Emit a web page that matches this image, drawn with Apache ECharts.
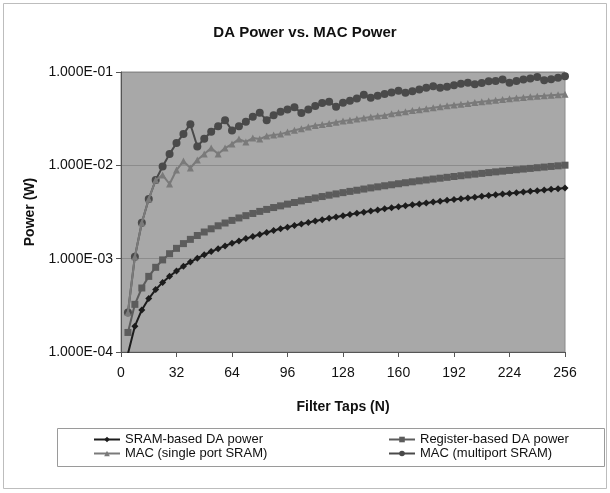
<!DOCTYPE html>
<html>
<head>
<meta charset="utf-8">
<script src="https://cdn.jsdelivr.net/npm/echarts@6/dist/echarts.min.js"></script>
<style>
html,body{margin:0;padding:0;background:#ffffff;}
#chart{width:610px;height:493px;}
</style>
</head>
<body>
<div id="chart"></div>
<script>
const chartTitle = 'DA Power vs. MAC Power';
const xAxisName = 'Filter Taps (N)';
const yAxisName = 'Power (W)';
const seriesNames = ['SRAM-based DA power', 'Register-based DA power', 'MAC (single port SRAM)', 'MAC (multiport SRAM)'];
const xTicks = [0, 32, 64, 96, 128, 160, 192, 224, 256];
const yTicks = [1e-4, 1e-3, 1e-2, 1e-1];

const taps = [4,8,12,16,20,24,28,32,36,40,44,48,52,56,60,64,68,72,76,80,84,88,92,96,100,104,108,112,116,120,124,128,
  132,136,140,144,148,152,156,160,164,168,172,176,180,184,188,192,196,200,204,208,212,216,220,224,228,232,236,240,244,248,252,256];

const sramDA = [9.57e-5,1.89e-4,2.82e-4,3.74e-4,4.66e-4,5.57e-4,6.48e-4,7.39e-4,8.30e-4,9.20e-4,1.011e-3,1.101e-3,1.191e-3,1.281e-3,1.371e-3,1.461e-3,
  1.551e-3,1.641e-3,1.730e-3,1.819e-3,1.910e-3,1.999e-3,2.087e-3,2.176e-3,2.266e-3,2.354e-3,2.445e-3,2.533e-3,2.620e-3,2.711e-3,2.798e-3,2.888e-3,
  2.975e-3,3.065e-3,3.152e-3,3.242e-3,3.329e-3,3.419e-3,3.509e-3,3.594e-3,3.684e-3,3.771e-3,3.860e-3,3.950e-3,4.035e-3,4.125e-3,4.215e-3,4.299e-3,
  4.389e-3,4.479e-3,4.563e-3,4.652e-3,4.742e-3,4.826e-3,4.916e-3,5.005e-3,5.089e-3,5.178e-3,5.268e-3,5.357e-3,5.440e-3,5.529e-3,5.619e-3,5.707e-3];

const registerDA = [1.62e-4,3.24e-4,4.85e-4,6.46e-4,8.08e-4,9.70e-4,1.13e-3,1.29e-3,1.45e-3,1.61e-3,1.77e-3,1.93e-3,2.09e-3,2.25e-3,2.41e-3,2.57e-3,
  2.73e-3,2.89e-3,3.05e-3,3.21e-3,3.37e-3,3.53e-3,3.68e-3,3.84e-3,4.00e-3,4.16e-3,4.31e-3,4.47e-3,4.63e-3,4.79e-3,4.94e-3,5.10e-3,
  5.26e-3,5.41e-3,5.57e-3,5.73e-3,5.88e-3,6.04e-3,6.19e-3,6.35e-3,6.51e-3,6.66e-3,6.82e-3,6.97e-3,7.13e-3,7.28e-3,7.44e-3,7.59e-3,
  7.74e-3,7.90e-3,8.05e-3,8.20e-3,8.36e-3,8.51e-3,8.66e-3,8.82e-3,8.97e-3,9.12e-3,9.27e-3,9.43e-3,9.58e-3,9.73e-3,9.88e-3,1.004e-2];

const macSingle = [2.65e-4,1.05e-3,2.43e-3,4.36e-3,6.96e-3,7.87e-3,6.31e-3,8.91e-3,1.11e-2,9.36e-3,1.14e-2,1.32e-2,1.53e-2,1.32e-2,1.53e-2,1.69e-2,
  1.91e-2,1.78e-2,1.96e-2,1.91e-2,2.06e-2,2.11e-2,2.16e-2,2.27e-2,2.38e-2,2.47e-2,2.57e-2,2.67e-2,2.73e-2,2.80e-2,2.90e-2,2.98e-2,
  3.05e-2,3.13e-2,3.21e-2,3.29e-2,3.37e-2,3.41e-2,3.58e-2,3.67e-2,3.76e-2,3.86e-2,3.95e-2,4.05e-2,4.15e-2,4.25e-2,4.36e-2,4.44e-2,
  4.52e-2,4.61e-2,4.71e-2,4.80e-2,4.90e-2,4.99e-2,5.08e-2,5.17e-2,5.26e-2,5.34e-2,5.42e-2,5.50e-2,5.56e-2,5.63e-2,5.70e-2,5.77e-2];

const macMulti = [2.65e-4,1.05e-3,2.43e-3,4.36e-3,6.96e-3,9.71e-3,1.32e-2,1.73e-2,2.16e-2,2.76e-2,
  1.59e-2,1.93e-2,2.29e-2,2.63e-2,3.05e-2,
  2.36e-2,2.63e-2,2.93e-2,3.32e-2,3.65e-2,
  3.05e-2,3.45e-2,3.74e-2,3.97e-2,4.20e-2,
  3.63e-2,3.97e-2,4.31e-2,4.64e-2,4.79e-2,
  4.25e-2,4.67e-2,4.93e-2,5.21e-2,5.72e-2,
  5.31e-2,5.55e-2,5.82e-2,6.03e-2,6.31e-2,
  6.01e-2,6.23e-2,6.50e-2,6.76e-2,7.05e-2,
  6.79e-2,6.93e-2,7.22e-2,7.50e-2,7.68e-2,
  7.41e-2,7.64e-2,7.97e-2,8.03e-2,8.31e-2,
  7.68e-2,8.03e-2,8.31e-2,8.52e-2,8.86e-2,
  8.17e-2,8.38e-2,8.69e-2,9.02e-2];

const FONT = 'Liberation Sans, Arial, sans-serif';
const pair = arr => taps.map((t, i) => [t, arr[i]]);

function fmtSci(v) {
  const e = Math.round(Math.log10(v));
  const m = v / Math.pow(10, e);
  const sign = e < 0 ? '-' : '+';
  const ae = Math.abs(e);
  return m.toFixed(3) + 'E' + sign + (ae < 10 ? '0' + ae : String(ae));
}

const styles = [
  {symbol: 'diamond', size: 7, color: '#1c1c1c'},
  {symbol: 'rect', size: 7, color: '#5c5c5c'},
  {symbol: 'triangle', size: 7, color: '#7a7a7a'},
  {symbol: 'circle', size: 8, color: '#4a4a4a'}
];
const dataSets = [sramDA, registerDA, macSingle, macMulti];

const series = dataSets.map((d, i) => ({
  name: seriesNames[i],
  type: 'line',
  data: pair(d),
  symbol: styles[i].symbol,
  symbolSize: styles[i].size,
  showAllSymbol: true,
  clip: true,
  animation: false,
  z: 10 - i,
  lineStyle: {color: styles[i].color, width: 2},
  itemStyle: {color: styles[i].color, borderWidth: 0}
}));

const legendPos = [
  {left: 93, top: 433},
  {left: 388, top: 433},
  {left: 93, top: 447},
  {left: 388, top: 447}
];
const legends = seriesNames.map((n, i) => ({
  data: [n],
  left: legendPos[i].left,
  top: legendPos[i].top,
  itemWidth: 26,
  itemHeight: 7,
  selectedMode: false,
  padding: 0,
  textStyle: {fontFamily: FONT, fontSize: 13, color: '#111'}
}));

const chart = echarts.init(document.getElementById('chart'), null, {renderer: 'canvas'});
chart.setOption({
  backgroundColor: '#ffffff',
  animation: false,
  title: {
    text: chartTitle,
    left: 'center',
    top: 20,
    textStyle: {fontFamily: FONT, fontSize: 15, fontWeight: 'bold', color: '#111'}
  },
  legend: legends,
  grid: {
    left: 121, right: 45, top: 72, bottom: 141,
    show: true,
    backgroundColor: '#a8a8a8',
    borderColor: '#8a8a8a',
    borderWidth: 1
  },
  xAxis: {
    type: 'value',
    min: 0, max: 256, interval: 32,
    name: xAxisName,
    nameLocation: 'middle',
    nameGap: 48,
    nameTextStyle: {fontFamily: FONT, fontSize: 14, fontWeight: 'bold', color: '#111'},
    axisLine: {show: true, lineStyle: {color: '#555', width: 1}},
    axisTick: {show: true, length: 5, lineStyle: {color: '#555'}},
    axisLabel: {fontFamily: FONT, fontSize: 14, color: '#111', margin: 14,
      formatter: v => (xTicks.indexOf(v) >= 0 ? String(v) : '')},
    splitLine: {show: false}
  },
  yAxis: {
    type: 'log',
    logBase: 10,
    min: yTicks[0], max: yTicks[yTicks.length - 1],
    name: yAxisName,
    nameLocation: 'middle',
    nameGap: 84,
    nameRotate: 90,
    nameTextStyle: {fontFamily: FONT, fontSize: 14, fontWeight: 'bold', color: '#111'},
    axisLine: {show: true, lineStyle: {color: '#555', width: 1}},
    axisTick: {show: true, length: 5, lineStyle: {color: '#555'}},
    axisLabel: {fontFamily: FONT, fontSize: 14, color: '#111', margin: 8, formatter: v => fmtSci(v)},
    splitLine: {show: true, lineStyle: {color: '#8c8c8c', width: 1}}
  },
  graphic: [
    {type: 'rect', shape: {x: 3.5, y: 3.5, width: 603, height: 485}, style: {fill: 'none', stroke: '#bdbdbd', lineWidth: 1}, z: -10, silent: true},
    {type: 'rect', shape: {x: 57.5, y: 428.5, width: 547, height: 38}, style: {fill: 'none', stroke: '#9a9a9a', lineWidth: 1}, z: -5, silent: true}
  ],
  series: series
});
</script>
</body>
</html>
